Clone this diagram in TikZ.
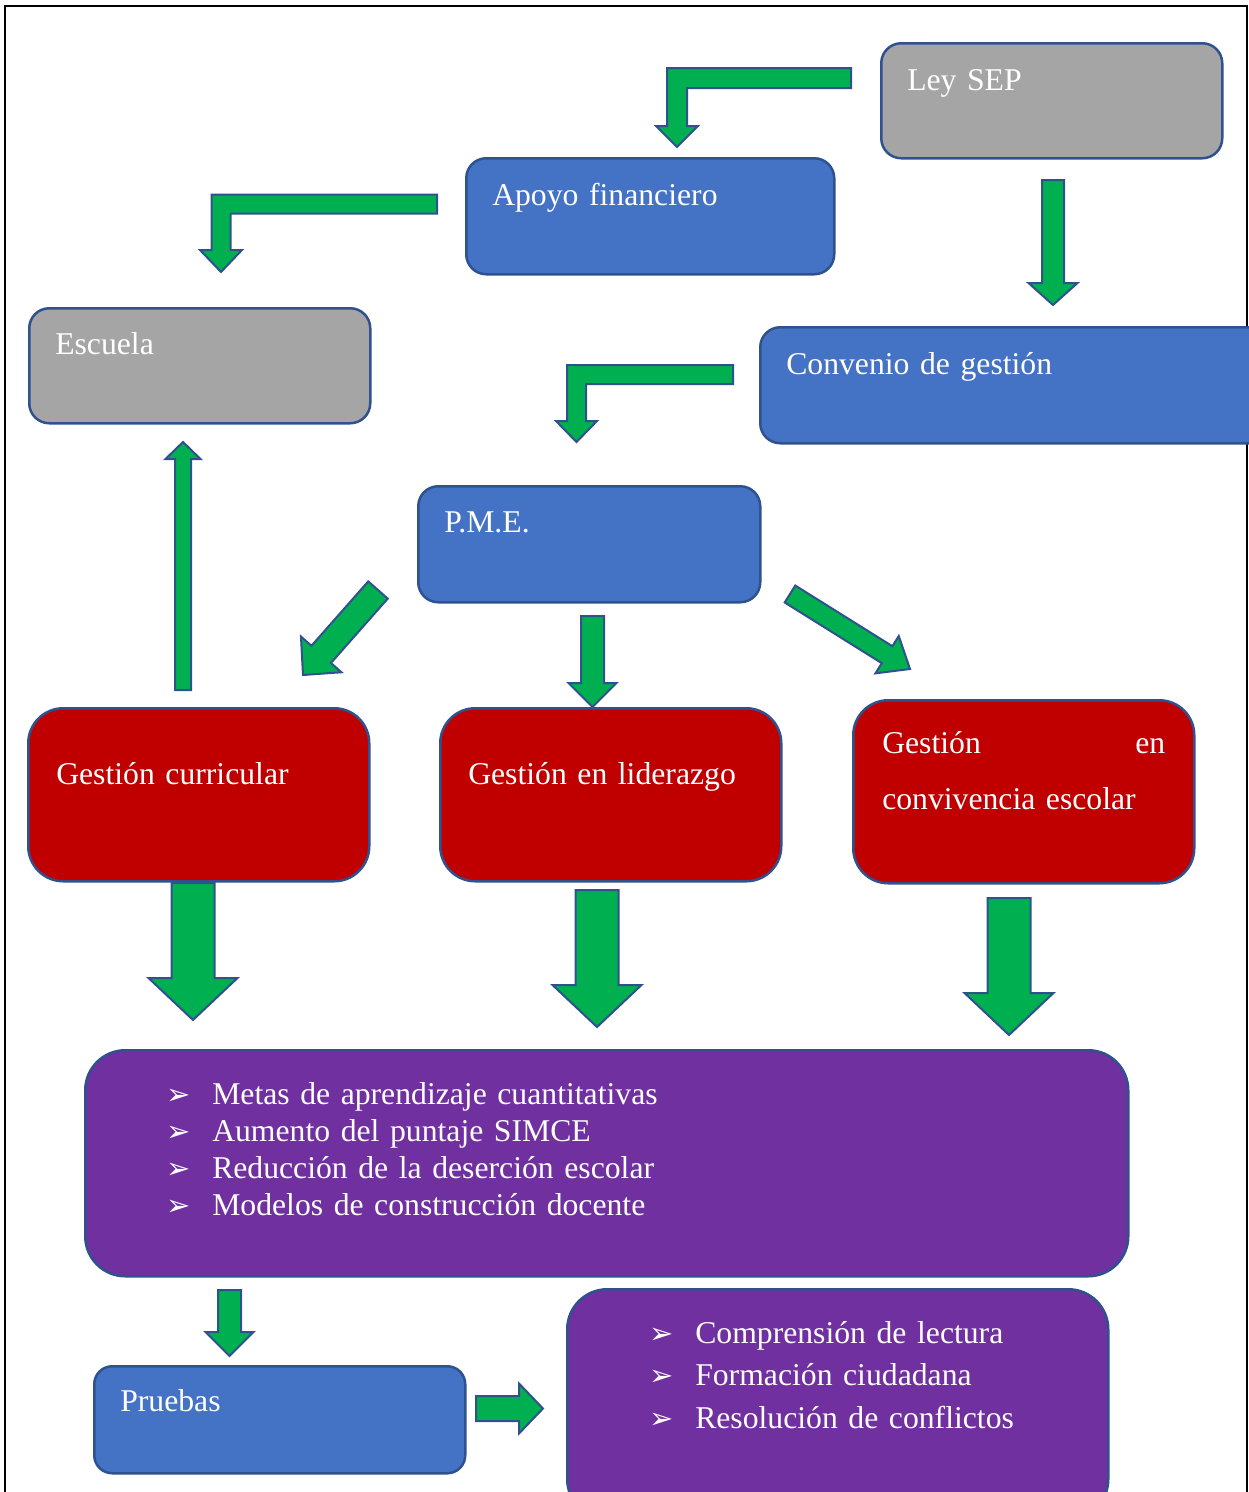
\documentclass[tikz,border=0pt]{standalone}
\usepackage{fontspec}
\setmainfont[WordSpace=0.75]{Liberation Serif}
\newfontfamily\symfont{DejaVu Sans}
\usetikzlibrary{calc}
\definecolor{boxGray}{RGB}{165,165,165}
\definecolor{boxBlue}{RGB}{68,114,196}
\definecolor{boxRed}{RGB}{192,0,0}
\definecolor{boxPurple}{RGB}{112,48,160}
\definecolor{arrowGreen}{RGB}{0,176,80}
\definecolor{edgeBlue}{RGB}{47,82,143}

\tikzset{
  box/.style={draw=edgeBlue, line width=2.5pt, rounded corners=20pt, text=white, anchor=north west,
    align=left, inner ysep=0pt, inner xsep=26pt, font=\fontsize{31.7}{38}\selectfont},
  blockarr/.style={draw=edgeBlue, fill=arrowGreen, line width=2pt, line join=miter},
}

% list bullet
\newcommand{\listmark}{\makebox[46pt][l]{\symfont\fontsize{29}{29}\selectfont ➢}}

% straight block arrow: tail, tip, half stem, half head, head length
\newcommand{\blockarrow}[5]{%
  \coordinate (ab) at ($(#2)!#5!(#1)$);
  \draw[blockarr] ($(#1)!#3!90:(#2)$) -- ($(ab)!#3!90:(#2)$) -- ($(ab)!#4!90:(#2)$) -- (#2)
    -- ($(ab)!#4!-90:(#2)$) -- ($(ab)!#3!-90:(#2)$) -- ($(#1)!#3!-90:(#2)$) -- cycle;
}
% bent block arrow (left, then down): tail, tip, half bar, half head, head length
\newcommand{\bentarrow}[5]{%
  \draw[blockarr] let \p1=(#1), \p2=(#2) in
    (\x1,{\y1+#3}) -- ({\x2-#3},{\y1+#3}) -- ({\x2-#3},{\y2+#5}) -- ({\x2-#4},{\y2+#5}) -- (\x2,\y2)
    -- ({\x2+#4},{\y2+#5}) -- ({\x2+#3},{\y2+#5}) -- ({\x2+#3},{\y1-#3}) -- (\x1,{\y1-#3}) -- cycle;
}

\begin{document}
\begin{tikzpicture}[x=1pt, y=-1pt]
  \useasboundingbox (0,0) rectangle (1249,1492);
  \clip (0,0) rectangle (1249,1492);

  % frame
  \draw[line width=2.5pt] (5,6) rectangle (1247,1510);

  % top row
  \node[box, fill=boxGray, text width=289pt, text height=47pt, text depth=68pt] (ley) at (880,42) {Ley SEP};
  \node[box, fill=boxBlue, text width=316pt, text height=47pt, text depth=69pt] (apoyo) at (465,157) {Apoyo financiero};
  \node[box, fill=boxGray, text width=289pt, text height=46pt, text depth=69pt] (escuela) at (28,307) {Escuela};
  \node[box, fill=boxBlue, text width=480pt, text height=47pt, text depth=69pt] (convenio) at (759,326) {Convenio de gestión};
  \node[box, fill=boxBlue, text width=290pt, text height=46pt, text depth=70pt] (pme) at (417,485) {P.M.E.};

  % gestion areas
  \node[box, fill=boxRed, rounded corners=35pt, inner xsep=28pt, text width=285pt, text height=76pt, text depth=97pt] (curricular) at (27,707) {Gestión curricular};
  \node[box, fill=boxRed, rounded corners=35pt, inner xsep=28pt, text width=285pt, text height=76pt, text depth=97pt] (liderazgo) at (439,707) {Gestión en liderazgo};
  \node[box, fill=boxRed, rounded corners=35pt, inner xsep=29pt, text width=283pt, text height=53pt, text depth=130pt,
    font=\fontsize{31.7}{56}\selectfont] (convivencia) at (852,699) {Gestión\hfill en\\convivencia escolar};

  % results
  \node[box, fill=boxPurple, rounded corners=40pt, inner xsep=81pt, text width=881pt, text height=54pt, text depth=172pt,
    font=\fontsize{31.7}{37.2}\selectfont] (metas) at (84,1049)
    {\listmark Metas de aprendizaje cuantitativas\\\listmark Aumento del puntaje SIMCE\\
     \listmark Reducción de la deserción escolar\\\listmark Modelos de construcción docente};
  \node[box, fill=boxBlue, rounded corners=18pt, text width=319pt, text height=45pt, text depth=62pt] (pruebas) at (93,1365) {Pruebas};
  \node[box, fill=boxPurple, rounded corners=40pt, inner xsep=82pt, text width=377pt, text height=54pt, text depth=176pt,
    font=\fontsize{31.7}{42.5}\selectfont] (areas) at (566,1288)
    {\listmark Comprensión de lectura\\\listmark Formación ciudadana\\\listmark Resolución de conflictos};

  % arrows
  \coordinate (leyOut) at (851,78);      \coordinate (apoyoIn) at (677,147);
  \coordinate (apoyoOut) at (437,204);   \coordinate (escuelaIn) at (221,272);
  \coordinate (leyDown) at (1053,180);   \coordinate (convenioIn) at (1053,305);
  \coordinate (convenioOut) at (733,374.5); \coordinate (pmeIn) at (576.5,442);
  \coordinate (curUp) at (183,690);      \coordinate (escuelaUp) at (183,442);
  \coordinate (pmeLeft) at (378,590);    \coordinate (curIn) at (303,675);
  \coordinate (pmeDown) at (592.5,616);  \coordinate (lidIn) at (592.5,707);
  \coordinate (pmeRight) at (790,594);   \coordinate (conIn) at (910,669);
  \coordinate (metasOut) at (229.5,1290); \coordinate (pruebasIn) at (229.5,1356);
  \coordinate (pruebasOut) at (476,1408.5); \coordinate (areasIn) at (543,1408.5);

  \bentarrow{leyOut}{apoyoIn}{10pt}{21pt}{21pt}
  \bentarrow{apoyoOut}{escuelaIn}{9.5pt}{21pt}{22pt}
  \bentarrow{convenioOut}{pmeIn}{9.5pt}{20.5pt}{21pt}
  \blockarrow{leyDown}{convenioIn}{11pt}{24.5pt}{22pt}
  \blockarrow{curUp}{escuelaUp}{8pt}{17.5pt}{17pt}
  \blockarrow{pmeLeft}{curIn}{13pt}{27pt}{27.5pt}
  \blockarrow{pmeDown}{lidIn}{11.5pt}{24pt}{24pt}
  \blockarrow{pmeRight}{conIn}{10pt}{22pt}{27pt}
  \foreach \nm/\px/\top in {cur/193/883, lid/597/890, con/1009/898} {
    \coordinate (\nm Out) at (\px,\top);
    \coordinate (\nm Down) at (\px,{\top+137});
    \blockarrow{\nm Out}{\nm Down}{21.5pt}{44.5pt}{42pt}
  }
  \blockarrow{metasOut}{pruebasIn}{11.5pt}{24pt}{24pt}
  \blockarrow{pruebasOut}{areasIn}{12.5pt}{25pt}{24pt}
\end{tikzpicture}
\end{document}
